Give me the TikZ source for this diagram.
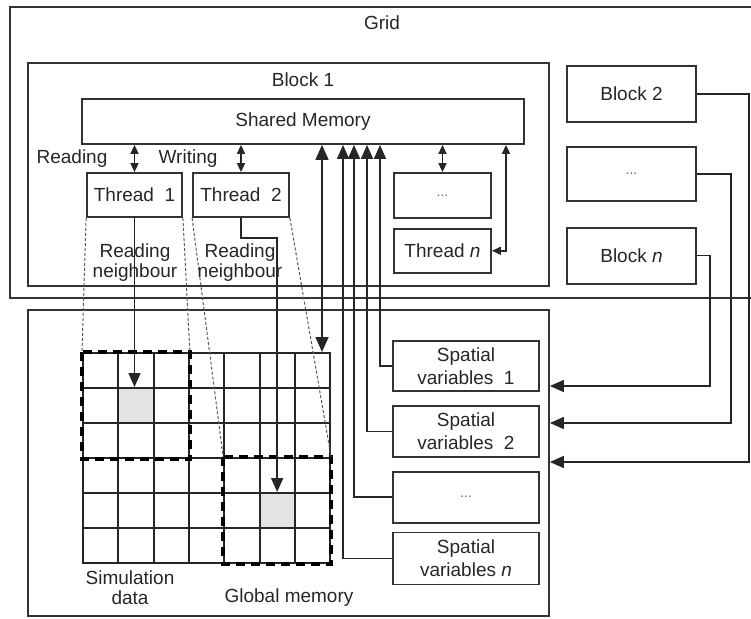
\documentclass[tikz,border=0pt]{standalone}
\usepackage{fontspec}
\setmainfont{Liberation Sans}
\usetikzlibrary{positioning, arrows.meta}

\begin{document}
\begin{tikzpicture}[
        x=1pt, y=-1pt,
        font=\fontsize{19}{20}\selectfont,
        text=black!85,
        >={Triangle[length=14pt,width=12pt]},
        frame/.style={
            draw=black!80,
            line width=1.8pt,
            inner sep=0pt
        },
        unitbox/.style={
            frame,
            minimum width=96pt,
            minimum height=44pt
        },
        blockbox/.style={
            frame,
            minimum width=129pt,
            minimum height=55pt
        },
        varbox/.style={
            frame,
            minimum width=146pt,
            minimum height=51pt,
            align=center,
            font=\fontsize{19}{23}\selectfont
        },
        dotsfont/.style={font=\fontsize{14}{14}\selectfont, text=black!60},
        cell/.style={
            draw=black!85,
            line width=2pt,
            minimum width=35.3pt,
            minimum height=35pt,
            inner sep=0pt
        },
        hot/.style={cell, fill=gray!22},
        patch/.style={draw=black, line width=4pt, dash pattern=on 9pt off 6pt},
        guide/.style={draw=black!65, line width=1pt, dash pattern=on 3pt off 2pt},
        arr/.style={->, draw=black!85, line width=1.6pt},
        dblarr/.style={{Triangle[length=9pt,width=8pt]}-{Triangle[length=9pt,width=8pt]}, draw=black!85, line width=1.6pt},
        bigarr/.style={{Triangle[length=15pt,width=13pt]}-{Triangle[length=15pt,width=13pt]}, draw=black!85, line width=1.6pt}
    ]

    \useasboundingbox (0,0) rectangle (751,618);

    \node[frame, minimum width=750pt, minimum height=291pt] (gridbox) at (385,152.5) {};
    \node (gridlbl) at (382,23) {Grid};

    \node[frame, minimum width=521pt, minimum height=223pt] (block1) at (288.5,174.5) {};
    \node (blk1lbl) at (303,80) {Block 1};

    \node[frame, minimum width=442pt, minimum height=45pt] (shmem) at (303,121.5) {Shared Memory};

    \node[unitbox, minimum width=95pt] (thr1) at (134.5,195) {Thread\ \ 1};
    \node[unitbox] (thr2) at (241,195) {Thread\ \ 2};
    \node[unitbox, minimum width=97pt, minimum height=45pt, dotsfont] (thrdots) at (442.5,195.5) {...};
    \node[unitbox, minimum width=97pt, below=9pt of thrdots] (thrn) {Thread \textit{n}};

    \node[blockbox, minimum height=56pt] (blk2) at (631.5,94) {Block 2};
    \node[blockbox, minimum height=54pt, below=23pt of blk2, dotsfont] (blkdots) {...};
    \node[blockbox, minimum height=56pt, below=25pt of blkdots] (blkn) {Block \textit{n}};

    \node[frame, minimum width=521pt, minimum height=306pt] (gmem) at (288.5,463) {};

    \node[varbox, minimum height=50pt] (sv1) at (466,366) {Spatial\\variables\ \ 1};
    \node[varbox, below=13pt of sv1] (sv2) {Spatial\\variables\ \ 2};
    \node[varbox, below=13pt of sv2, dotsfont] (svdots) {...};
    \node[varbox, minimum height=52pt, below=8pt of svdots] (svn) {Spatial\\variables \textit{n}};

    \foreach \i in {0,...,6}
        \foreach \j in {0,...,5}
            \node[cell] (c-\i-\j) at ({100.65+35.3*\i},{370.5+35*\j}) {};
    \node[hot] (hot1) at (c-1-1) {};
    \node[hot] (hot2) at (c-5-4) {};

    \draw[patch] (c-0-0.north west) rectangle (c-2-2.south east);
    \draw[patch] (c-4-3.north west) rectangle (c-6-5.south east);

    \coordinate (gmx) at (322,0);
    \coordinate (bus1) at (380,0);
    \coordinate (bus2) at (367,0);
    \coordinate (bus3) at (354,0);
    \coordinate (busn) at (343,0);

    \draw[guide] (thr1.south west) -- (c-0-0.north west);
    \draw[guide] (thr1.south east) -- (c-2-0.north east);
    \draw[guide] (thr2.south west) -- (c-4-3.north west);
    \draw[guide] (thr2.south east) -- (c-6-3.north east);

    \draw[dblarr] (thr1.north) -- (thr1.north |- shmem.south);
    \draw[dblarr] (thr2.north) -- (thr2.north |- shmem.south);
    \draw[dblarr] (thrdots.north) -- (thrdots.north |- shmem.south);
    \draw[dblarr] (thrn.east) -| ([xshift=203pt]shmem.south);

    \draw[bigarr] (gmx |- shmem.south) -- (gmx |- c-6-0.north);

    \draw[arr] (thr1.south) -- (thr1.south |- c-1-1.north);
    \draw[arr] (thr2.south) -- ++(0,20) -| (c-5-4.north);

    \draw[arr] (sv1.west) -| (bus1 |- shmem.south);
    \draw[arr] (sv2.west) -| (bus2 |- shmem.south);
    \draw[arr] (svdots.west) -| (bus3 |- shmem.south);
    \draw[arr] (svn.west) -| (busn |- shmem.south);

    \draw[arr] (blk2.east) -- ++(52,0) |- ([yshift=1pt]gmem.east);
    \draw[arr] (blkdots.east) -- ++(34,0) |- ([yshift=40pt]gmem.east);
    \draw[arr] (blkn.east) -- ++(13,0) |- ([yshift=77pt]gmem.east);

    \node (rdlbl) at (72,159) {Reading};
    \node (wrlbl) at (188,159) {Writing};
    \node[align=center] (nb1) at (135,263) {Reading\\neighbour};
    \node[align=center] (nb2) at (240,263) {Reading\\neighbour};
    \node[align=center] (simlbl) at (130,588) {Simulation\\data};
    \node (gmlbl) at (289,598) {Global memory};

\end{tikzpicture}
\end{document}
